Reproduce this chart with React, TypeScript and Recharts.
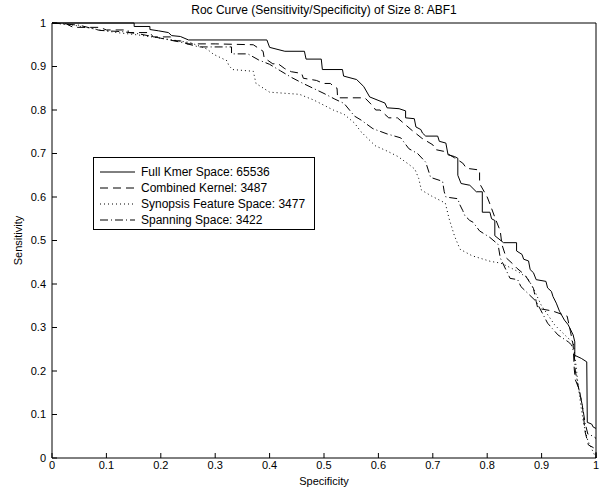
import { LineChart, Line, XAxis, YAxis, Legend, Label } from 'recharts';

// [specificity, sensitivity] pairs
const fullKmer: number[][] = [
  [0, 1], [0.151, 1], [0.151, 0.992], [0.18, 0.992], [0.18, 0.985], [0.196, 0.982], [0.214, 0.978],
  [0.22, 0.971], [0.236, 0.969], [0.251, 0.961], [0.395, 0.961], [0.4, 0.944], [0.428, 0.935],
  [0.464, 0.935], [0.467, 0.917], [0.495, 0.917], [0.497, 0.893], [0.534, 0.893], [0.536, 0.878],
  [0.56, 0.87], [0.573, 0.854], [0.584, 0.83], [0.612, 0.816], [0.616, 0.805], [0.638, 0.803],
  [0.65, 0.798], [0.65, 0.782], [0.666, 0.78], [0.669, 0.761], [0.678, 0.755], [0.681, 0.747],
  [0.687, 0.74], [0.709, 0.74], [0.712, 0.728], [0.724, 0.724], [0.728, 0.697], [0.74, 0.693],
  [0.746, 0.689], [0.746, 0.65], [0.752, 0.631], [0.768, 0.627], [0.78, 0.612], [0.791, 0.612],
  [0.791, 0.565], [0.805, 0.565], [0.808, 0.55], [0.814, 0.546], [0.814, 0.511], [0.83, 0.495],
  [0.854, 0.495], [0.854, 0.476], [0.864, 0.468], [0.867, 0.457], [0.876, 0.453], [0.879, 0.433],
  [0.885, 0.426], [0.89, 0.41], [0.908, 0.406], [0.911, 0.391], [0.918, 0.383], [0.921, 0.371],
  [0.927, 0.356], [0.933, 0.337], [0.942, 0.317], [0.949, 0.306], [0.958, 0.283], [0.961, 0.267],
  [0.961, 0.236], [0.973, 0.229], [0.983, 0.221], [0.984, 0.082], [0.992, 0.078], [0.995, 0.071],
  [1, 0.068],
];

const combinedKernel: number[][] = [
  [0, 1], [0.026, 0.998], [0.039, 0.99], [0.088, 0.99], [0.1, 0.984], [0.14, 0.984], [0.14, 0.978],
  [0.18, 0.978], [0.186, 0.968], [0.218, 0.968], [0.22, 0.96], [0.245, 0.958], [0.248, 0.952],
  [0.3, 0.952], [0.37, 0.95], [0.388, 0.935], [0.39, 0.92], [0.406, 0.906], [0.415, 0.907],
  [0.428, 0.895], [0.44, 0.888], [0.459, 0.884], [0.462, 0.873], [0.486, 0.868], [0.499, 0.861],
  [0.512, 0.861], [0.517, 0.854], [0.524, 0.85], [0.525, 0.828], [0.575, 0.828], [0.59, 0.809],
  [0.595, 0.8], [0.603, 0.8], [0.619, 0.782], [0.635, 0.782], [0.66, 0.755], [0.68, 0.735],
  [0.7, 0.72], [0.705, 0.709], [0.72, 0.705], [0.74, 0.69], [0.755, 0.678], [0.762, 0.666],
  [0.786, 0.662], [0.786, 0.631], [0.8, 0.6], [0.805, 0.584], [0.815, 0.55], [0.824, 0.522],
  [0.827, 0.491], [0.835, 0.46], [0.848, 0.445], [0.854, 0.437], [0.87, 0.42], [0.885, 0.39],
  [0.89, 0.36], [0.893, 0.344], [0.92, 0.338], [0.947, 0.326], [0.953, 0.291], [0.958, 0.26],
  [0.96, 0.205], [0.962, 0.18], [0.969, 0.158], [0.975, 0.12], [0.98, 0.06], [0.986, 0.03],
  [0.995, 0.024], [1, 0.018], [1, 0],
];

const synopsis: number[][] = [
  [0, 1], [0.04, 0.995], [0.088, 0.984], [0.119, 0.978], [0.162, 0.972], [0.2, 0.965], [0.254, 0.955],
  [0.285, 0.94], [0.297, 0.928], [0.322, 0.913], [0.325, 0.902], [0.332, 0.893], [0.37, 0.889],
  [0.375, 0.861], [0.4, 0.841], [0.455, 0.836], [0.481, 0.823], [0.517, 0.8], [0.537, 0.79],
  [0.556, 0.77], [0.568, 0.75], [0.594, 0.718], [0.617, 0.705], [0.636, 0.693], [0.656, 0.675],
  [0.667, 0.664], [0.674, 0.643], [0.679, 0.616], [0.698, 0.602], [0.723, 0.586], [0.73, 0.55],
  [0.74, 0.51], [0.75, 0.48], [0.772, 0.465], [0.806, 0.452], [0.825, 0.448], [0.837, 0.441],
  [0.856, 0.429], [0.874, 0.414], [0.885, 0.39], [0.899, 0.352], [0.924, 0.306], [0.949, 0.275],
  [0.958, 0.267], [0.964, 0.205], [0.967, 0.167], [0.973, 0.113], [0.978, 0.074], [0.985, 0.04],
  [0.995, 0.013], [1, 0],
];

const spanning: number[][] = [
  [0, 1], [0.05, 0.995], [0.088, 0.983], [0.13, 0.98], [0.16, 0.975], [0.2, 0.965], [0.24, 0.955],
  [0.27, 0.945], [0.33, 0.945], [0.33, 0.929], [0.36, 0.929], [0.38, 0.915], [0.4, 0.905],
  [0.42, 0.89], [0.44, 0.875], [0.46, 0.862], [0.48, 0.85], [0.5, 0.838], [0.52, 0.825],
  [0.537, 0.815], [0.556, 0.786], [0.568, 0.777], [0.59, 0.757], [0.616, 0.745], [0.641, 0.736],
  [0.656, 0.711], [0.672, 0.7], [0.687, 0.68], [0.696, 0.645], [0.718, 0.636], [0.721, 0.612],
  [0.724, 0.6], [0.746, 0.596], [0.749, 0.584], [0.755, 0.569], [0.759, 0.557], [0.768, 0.546],
  [0.774, 0.542], [0.786, 0.522], [0.805, 0.507], [0.82, 0.491], [0.824, 0.46], [0.842, 0.413],
  [0.856, 0.41], [0.862, 0.394], [0.89, 0.36], [0.911, 0.31], [0.93, 0.283], [0.949, 0.267],
  [0.955, 0.26], [0.96, 0.24], [0.962, 0.2], [0.967, 0.167], [0.97, 0.15], [0.975, 0.12],
  [0.98, 0.08], [0.985, 0.055], [0.995, 0.05], [1, 0.045],
];

const ticks = [0, 0.1, 0.2, 0.3, 0.4, 0.5, 0.6, 0.7, 0.8, 0.9, 1];

const series = [
  { name: 'Full Kmer Space: 65536', data: fullKmer, dash: undefined },
  { name: 'Combined Kernel: 3487', data: combinedKernel, dash: '8 5' },
  { name: 'Synopsis Feature Space: 3477', data: synopsis, dash: '1 3' },
  { name: 'Spanning Space: 3422', data: spanning, dash: '8 3 1 3' },
];

const FONT = '"Liberation Sans", Arial, Helvetica, sans-serif';
const tickStyle = { fill: '#000', fontSize: 11, fontFamily: FONT };

const LegendBox = () => (
  <div
    style={{
      boxSizing: 'border-box',
      width: 222,
      height: 73,
      border: '1px solid #000',
      background: '#fff',
      padding: '6px 0 0 6px',
      fontFamily: FONT,
      fontSize: 12,
      color: '#000',
      lineHeight: '16px',
    }}
  >
    {series.map((s) => (
      <div key={s.name} style={{ display: 'flex', alignItems: 'center', whiteSpace: 'nowrap', height: 16 }}>
        <svg width={35} height={10} style={{ marginRight: 6 }}>
          <line x1={0} y1={5} x2={35} y2={5} stroke="#000" strokeWidth={1} strokeDasharray={s.dash} />
        </svg>
        <span>{s.name}</span>
      </div>
    ))}
  </div>
);

export default function App() {
  return (
    <div style={{ position: 'absolute', left: 0, top: 0, width: 604, height: 488, background: '#fff' }}>
      <div
        style={{
          position: 'absolute',
          left: 52,
          width: 544,
          top: 3,
          textAlign: 'center',
          fontFamily: FONT,
          fontSize: 12,
          lineHeight: '14px',
          color: '#000',
          zIndex: 1,
        }}
      >
        Roc Curve (Sensitivity/Specificity) of Size 8: ABF1
      </div>
      <LineChart width={604} height={488} margin={{ top: 22, right: 7, bottom: 0, left: 0 }}>
        <XAxis
          xAxisId="bottom"
          dataKey="spec"
          type="number"
          domain={[0, 1]}
          ticks={ticks}
          height={30}
          tickSize={-5}
          tickMargin={8}
          tick={tickStyle}
          stroke="#000"
          interval={0}
        >
          <Label value="Specificity" position="insideBottom" offset={3} fill="#000" fontSize={11} fontFamily={FONT} />
        </XAxis>
        <XAxis
          xAxisId="top"
          orientation="top"
          dataKey="spec"
          type="number"
          domain={[0, 1]}
          ticks={ticks}
          height={1}
          tickSize={-5}
          tick={false}
          stroke="#000"
          interval={0}
        />
        <YAxis
          yAxisId="left"
          type="number"
          domain={[0, 1]}
          ticks={ticks}
          width={52}
          tickSize={-5}
          tickMargin={11}
          tick={tickStyle}
          stroke="#000"
          interval={0}
        >
          <Label value="Sensitivity" angle={-90} position="insideLeft" offset={18} fill="#000" fontSize={11} fontFamily={FONT} style={{ textAnchor: 'middle' }} />
        </YAxis>
        <YAxis
          yAxisId="right"
          orientation="right"
          type="number"
          domain={[0, 1]}
          ticks={ticks}
          width={1}
          tickSize={-5}
          tick={false}
          stroke="#000"
          interval={0}
        />
        <Legend
          layout="vertical"
          align="center"
          verticalAlign="middle"
          content={<LegendBox />}
          wrapperStyle={{ position: 'absolute', left: 93, top: 157, width: 'auto', height: 'auto' }}
        />
        {series.map((s) => (
          <Line
            key={s.name}
            xAxisId="bottom"
            yAxisId="left"
            name={s.name}
            data={s.data.map(([spec, sens]) => ({ spec, sens }))}
            dataKey="sens"
            type="linear"
            stroke="#000"
            strokeWidth={1}
            strokeDasharray={s.dash}
            dot={false}
            activeDot={false}
            isAnimationActive={false}
          />
        ))}
      </LineChart>
    </div>
  );
}
